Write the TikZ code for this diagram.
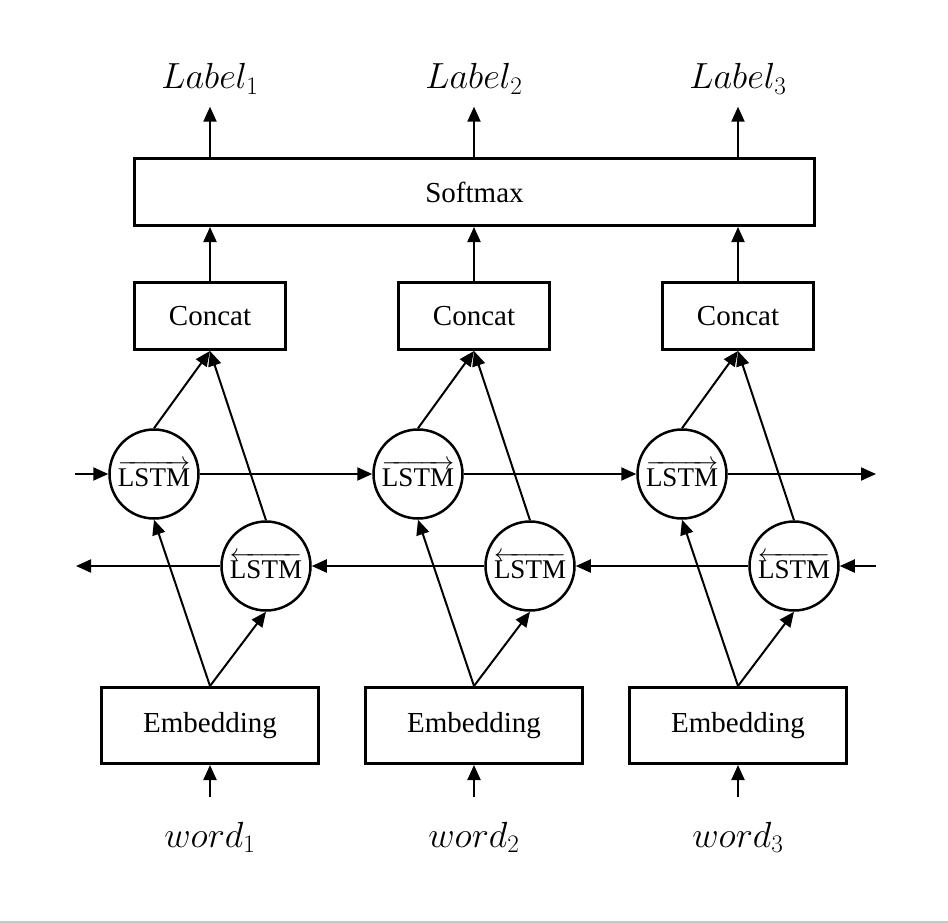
\documentclass[tikz,border=0pt]{standalone}
\usepackage{fontspec}
\setmainfont{Liberation Serif}
\usetikzlibrary{arrows.meta}
\newcommand{\bigmath}[1]{\scalebox{1.46}{$#1$}}
\begin{document}
\begin{tikzpicture}[x=1pt,y=-1pt,
 box/.style={draw,line width=3pt,minimum width=151pt,minimum height=67pt,inner sep=0pt,font=\fontsize{29}{32}\selectfont},
 ebox/.style={box,minimum width=217pt,minimum height=76pt},
 cell/.style={draw,circle,line width=2.5pt,minimum size=89pt,inner sep=0pt,font=\fontsize{27}{30}\selectfont},
 arr/.style={line width=2pt,-{Triangle[length=15pt,width=13pt]}},
 lbl/.style={inner sep=0pt,anchor=base,font=\fontsize{24}{28}\selectfont}]
\useasboundingbox (0,0) rectangle (948,923);
\fill[black!22] (0,920.5) rectangle (948,923);

% softmax
\node[box,minimum width=680pt] (soft) at (474.5,192) {Softmax};

\foreach \i/\c in {1/210,2/474,3/738}{
  \node[lbl] (lab\i) at (\c,89) {\bigmath{Label_{\i}}};
  \node[box] (con\i) at (\c,316) {Concat};
  \node[cell] (f\i) at (\c-56,474) {$\overrightarrow{\hbox{LSTM}}$};
  \node[cell] (b\i) at (\c+56,566) {$\overleftarrow{\hbox{LSTM}}$};
  \node[ebox] (emb\i) at (\c,725.5) {Embedding};
  \node[lbl] (w\i) at (\c,847) {\bigmath{word_{\i}}};
  \draw[arr,shorten >=12pt] (soft.north -| con\i) -- (lab\i.south);
  \draw[arr] (con\i) -- (soft.south -| con\i);
  \draw[arr] (f\i.north) -- (con\i.south);
  \draw[arr] (b\i.north) -- (con\i.south);
  \draw[arr] (emb\i.north) -- (f\i.south);
  \draw[arr] (emb\i.north) -- (b\i.south);
  \draw[arr,shorten <=25pt] (w\i.north) -- (emb\i.south);
}

\coordinate (fin) at (75,474);
\coordinate (fout) at (876,474);
\coordinate (bin) at (876,566);
\coordinate (bout) at (76,566);
\draw[arr] (fin) -- (f1.west);
\draw[arr] (f1.east) -- (f2.west);
\draw[arr] (f2.east) -- (f3.west);
\draw[arr] (f3.east) -- (fout);
\draw[arr] (bin) -- (b3.east);
\draw[arr] (b3.west) -- (b2.east);
\draw[arr] (b2.west) -- (b1.east);
\draw[arr] (b1.west) -- (bout);
\end{tikzpicture}
\end{document}
